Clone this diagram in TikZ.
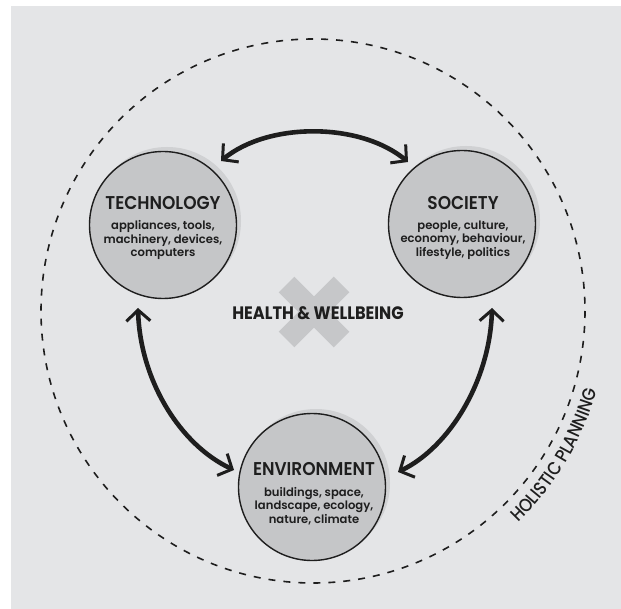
\documentclass[tikz,border=0pt]{standalone}
\usepackage{fontspec}
\setmainfont{Poppins}
\newfontfamily\semibold{Poppins SemiBold}
\newfontfamily\titlebold[FakeStretch=0.92]{Poppins SemiBold}
\newfontfamily\centrebold[FakeStretch=0.9]{Poppins Bold}
\newfontfamily\arcmedium[FakeStretch=0.88]{Poppins Medium}
\usetikzlibrary{arrows.meta,calc,decorations.text}

\definecolor{panel}{HTML}{E4E5E7}
\definecolor{discfill}{HTML}{C5C6C8}
\definecolor{discshade}{HTML}{D0D1D3}
\definecolor{crossfill}{HTML}{C6C7C9}
\definecolor{ink}{HTML}{1E1E1E}

\newcommand\holfont{\fontsize{18.5}{18.5}\selectfont\arcmedium}

\tikzset{barbtip/.tip={Straight Barb[length=11pt 0, width=24pt 0, line width=3pt 0]}}

\begin{document}
\begin{tikzpicture}[x=1pt,y=-1pt,
  disc/.style={circle, draw=ink, line width=1.4pt, fill=discfill,
    minimum size=147pt, inner sep=0pt},
  discshadow/.style={circle, fill=discshade, minimum size=148pt, inner sep=0pt},
  heading/.style={text=ink, inner sep=0pt,
    font=\fontsize{18.5}{20}\selectfont\titlebold},
  detail/.style={text=ink, inner sep=0pt, align=center,
    font=\fontsize{11.6}{13.6}\selectfont\semibold},
  link/.style={draw=ink, line width=4.6pt, barbtip-barbtip},
  rim/.style={draw=ink, line width=1.6pt, dash pattern=on 7pt off 8pt}
]
\useasboundingbox (0,0) rectangle (621,609);
\fill[white] (0,0) rectangle (621,609);
\fill[panel] (11,6) rectangle (621,609);

% outer dashed boundary
\coordinate (hub) at (313,311);
\draw[rim] (hub) circle[radius=272];

% central cross and label
\draw[crossfill, line width=22pt] ($(314,312)+(-27.5,-27.5)$) -- ($(314,312)+(27.5,27.5)$);
\draw[crossfill, line width=22pt] ($(314,312)+(27.5,-27.5)$) -- ($(314,312)+(-27.5,27.5)$);
\node[text=ink, inner sep=0pt, font=\fontsize{18}{20}\selectfont\centrebold]
  (health) at (318,313) {HEALTH \& WELLBEING};

% the three discs with their offset shading
\node[discshadow] at (167,221) {};
\node[disc] (tech) at (163,225) {};
\node[discshadow] at (466,220) {};
\node[disc] (soc) at (462,224) {};
\node[discshadow] at (316,483) {};
\node[disc] (env) at (312,487) {};

\node[heading] (techT) at ($(tech)+(0,-22)$) {TECHNOLOGY};
\node[detail] (techD) at ($(tech)+(0,15)$) {appliances, tools,\\machinery, devices,\\computers};
\node[heading] (socT) at ($(soc)+(1,-21)$) {SOCIETY};
\node[detail] (socD) at ($(soc)+(1,16)$) {people, culture,\\economy, behaviour,\\lifestyle, politics};
\node[heading] (envT) at ($(env)+(2,-18)$) {ENVIRONMENT};
\node[detail] (envD) at ($(env)+(2,19)$) {buildings, space,\\landscape, ecology,\\nature, climate};

% end points of the two-way links
\coordinate (a1) at ($(tech)+(58,-64)$);
\coordinate (a2) at ($(soc)+(-54,-62)$);
\coordinate (b1) at ($(tech)+(-25,83)$);
\coordinate (b2) at ($(env)+(-78,-17)$);
\coordinate (c1) at ($(soc)+(30,84)$);
\coordinate (c2) at ($(env)+(86,-15)$);

\draw[link] (a1) .. controls +(47,-39) and +(-48,-40) .. (a2);
\draw[link] (b1) .. controls +(2,72) and +(-54,-25) .. (b2);
\draw[link] (c1) .. controls +(-2,72) and +(52,-25) .. (c2);

% curved label outside the boundary, letter tops facing the centre
\begin{scope}[shift={(313,311)}, y=1pt]
  \path[decorate, decoration={text along path, text align=center,
      text color=ink, text={|\holfont|HOLISTIC PLANNING}}]
    (-56:295) arc[start angle=-56, end angle=-5.5, radius=295];
\end{scope}
\end{tikzpicture}
\end{document}
